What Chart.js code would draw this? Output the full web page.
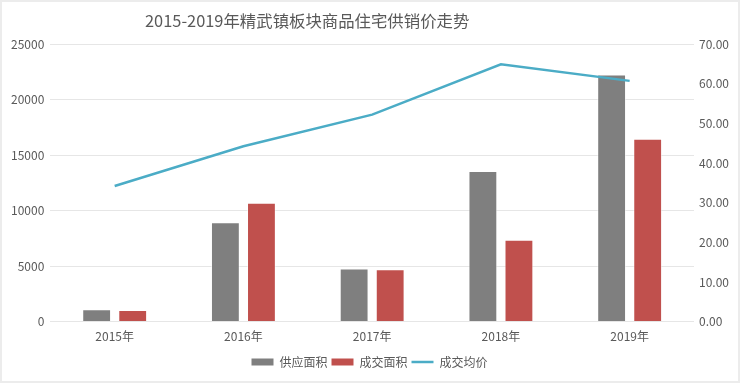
<!DOCTYPE html>
<html>
<head>
<meta charset="utf-8">
<script src="https://cdn.jsdelivr.net/npm/chart.js@4/dist/chart.umd.min.js"></script>
<style>
  html, body { margin: 0; padding: 0; background: #ffffff; }
  #wrap { position: relative; width: 740px; height: 383px; box-sizing: border-box; border: 2px solid #ececec; background: #fff; }
  #title { position: absolute; left: 143px; top: 6px; font-family: "Noto Sans CJK SC", "Noto Sans", sans-serif; font-size: 16.4px; color: #595959; white-space: nowrap; }
  canvas { display: block; }
</style>
</head>
<body>
<div id="wrap">
  <canvas id="c" width="736" height="379"></canvas>
  <div id="title">2015-2019年精武镇板块商品住宅供销价走势</div>
</div>
<script>
const categories = ['2015年', '2016年', '2017年', '2018年', '2019年'];
const supplyArea = [1110, 8940, 4780, 13570, 22260];
const dealArea = [1050, 10710, 4720, 7370, 16460];
const avgPrice = [34.2, 44.2, 52.2, 64.9, 60.7];
const leftTicks = [0, 5000, 10000, 15000, 20000, 25000];
const rightTicks = [0, 10, 20, 30, 40, 50, 60, 70];
const seriesNames = ['供应面积', '成交面积', '成交均价'];

const FONT = '"Noto Sans CJK SC", "Noto Sans", sans-serif';
const TICK = '#595959';

new Chart(document.getElementById('c'), {
  data: {
    labels: categories,
    datasets: [
      { type: 'bar', label: seriesNames[0], data: supplyArea, backgroundColor: '#7f7f7f', borderColor: 'rgba(255,255,255,0.5)', borderWidth: 1, yAxisID: 'y', order: 2, categoryPercentage: 0.56, barPercentage: 0.8 },
      { type: 'bar', label: seriesNames[1], data: dealArea, backgroundColor: '#c0504d', borderColor: 'rgba(255,255,255,0.5)', borderWidth: 1, yAxisID: 'y', order: 2, categoryPercentage: 0.56, barPercentage: 0.8 },
      { type: 'line', label: seriesNames[2], data: avgPrice, borderColor: '#4bacc6', backgroundColor: '#4bacc6', borderWidth: 2.5, pointRadius: 0, tension: 0, yAxisID: 'y1', order: 1 }
    ]
  },
  options: {
    responsive: false,
    animation: false,
    devicePixelRatio: 1,
    layout: { padding: { top: 42, left: 3, right: 4, bottom: 3 } },
    plugins: {
      title: { display: false },
      tooltip: { enabled: false },
      legend: {
        position: 'bottom',
        labels: {
          font: { family: FONT, size: 12 },
          color: TICK,
          usePointStyle: true,
          pointStyleWidth: 22,
          boxHeight: 7,
          padding: 4,
          sort: (a, b) => a.datasetIndex - b.datasetIndex,
          generateLabels(chart) {
            const items = Chart.defaults.plugins.legend.labels.generateLabels(chart);
            items.forEach(it => {
              const ds = chart.data.datasets[it.datasetIndex];
              if (ds.type === 'line') {
                it.pointStyle = 'line';
                it.strokeStyle = ds.borderColor;
                it.lineWidth = 2.5;
              } else {
                it.pointStyle = 'rect';
                it.fillStyle = ds.backgroundColor;
                it.strokeStyle = ds.backgroundColor;
                it.lineWidth = 0;
              }
            });
            return items;
          }
        }
      }
    },
    scales: {
      x: {
        grid: { display: false, drawTicks: false },
        border: { display: false },
        ticks: { font: { family: FONT, size: 12 }, color: TICK, padding: 8 }
      },
      y: {
        position: 'left',
        min: 0, max: 25000,
        afterBuildTicks(s) { s.ticks = leftTicks.map(v => ({ value: v })); },
        grid: { color: '#e6e6e6', lineWidth: 1, drawTicks: false },
        border: { display: false },
        ticks: { font: { family: FONT, size: 12 }, color: TICK, padding: 6, callback: v => String(v) }
      },
      y1: {
        position: 'right',
        min: 0, max: 70,
        afterBuildTicks(s) { s.ticks = rightTicks.map(v => ({ value: v })); },
        grid: { display: false, drawTicks: false },
        border: { display: false },
        ticks: { font: { family: FONT, size: 12 }, color: TICK, padding: 5, callback: v => Number(v).toFixed(2) }
      }
    }
  }
});
</script>
</body>
</html>
